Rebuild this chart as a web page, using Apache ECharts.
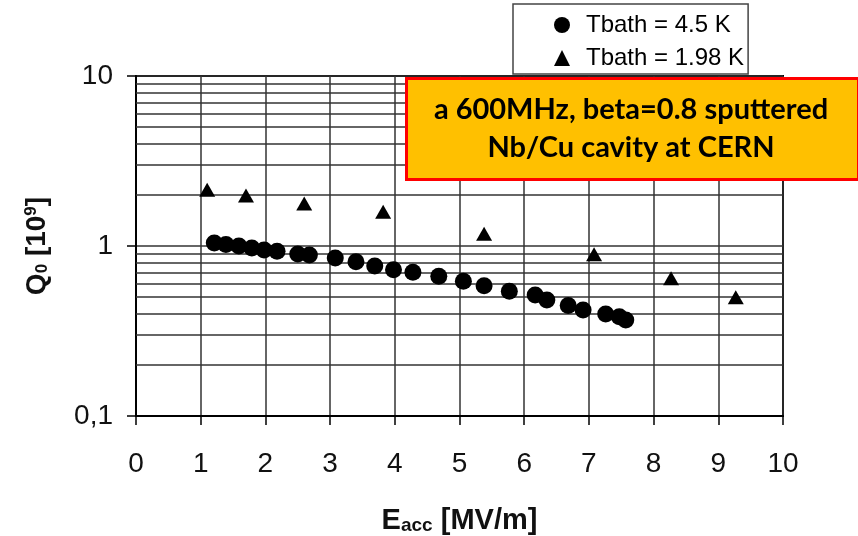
<!DOCTYPE html>
<html>
<head>
<meta charset="utf-8">
<script src="https://cdn.jsdelivr.net/npm/echarts@6/dist/echarts.min.js"></script>
<style>html,body{margin:0;padding:0;background:#fff;overflow:hidden}#c{width:858px;height:536px}</style>
</head>
<body>
<div id="c"></div>
<script>
// Data
const seriesNames = ['Tbath = 4.5 K', 'Tbath = 1.98 K'];
const eacc45 = [1.21, 1.39, 1.59, 1.79, 1.98, 2.18, 2.50, 2.68, 3.08, 3.40, 3.69, 3.98, 4.28, 4.68, 5.06, 5.38, 5.77, 6.17, 6.35, 6.68, 6.91, 7.26, 7.47, 7.57];
const q45    = [1.04, 1.02, 1.00, 0.973, 0.947, 0.931, 0.897, 0.885, 0.850, 0.809, 0.763, 0.726, 0.700, 0.663, 0.620, 0.584, 0.541, 0.515, 0.481, 0.446, 0.420, 0.398, 0.384, 0.367];
const eacc198 = [1.10, 1.70, 2.60, 3.82, 5.38, 7.08, 8.27, 9.27];
const q198    = [2.14, 1.98, 1.78, 1.59, 1.18, 0.893, 0.645, 0.499];
const xTicks = [0, 1, 2, 3, 4, 5, 6, 7, 8, 9, 10];
const yTickValues = [0.1, 1, 10];
const yTickLabels = ['0,1', '1', '10'];
const minorGrid = [0.2, 0.3, 0.4, 0.5, 0.6, 0.7, 0.8, 0.9, 2, 3, 4, 5, 6, 7, 8, 9];
const noteLines = ['a 600MHz, beta=0.8 sputtered', 'Nb/Cu cavity at CERN'];

const gridColor = '#333';
const narrow = 'Liberation Sans Narrow, Liberation Sans, Arial, sans-serif';
const chart = echarts.init(document.getElementById('c'), null, {renderer: 'canvas'});
const zip = (a, b) => a.map((v, i) => [v, b[i]]);

chart.setOption({
  animation: false,
  backgroundColor: '#fff',
  textStyle: {fontFamily: 'Liberation Sans, Arial, sans-serif'},
  grid: {left: 136, right: 75, top: 76, bottom: 120, outerBoundsMode: 'none', containLabel: false,
    show: true, borderColor: '#000', borderWidth: 2, backgroundColor: 'transparent'},
  legend: {
    orient: 'vertical', left: 513, top: 4,
    padding: [9, 4, 4, 41], itemGap: 9,
    itemWidth: 16, itemHeight: 16,
    borderColor: '#444', borderWidth: 1.5, backgroundColor: '#fff',
    textStyle: {fontSize: 24, color: '#000', fontFamily: 'Liberation Sans', padding: [0, 0, 0, 11]},
    data: [{name: seriesNames[0], icon: 'circle'}, {name: seriesNames[1], icon: 'triangle'}]
  },
  xAxis: {
    type: 'value', min: xTicks[0], max: xTicks[xTicks.length - 1], interval: 1,
    axisLine: {lineStyle: {color: '#000', width: 2}},
    axisTick: {length: 9, lineStyle: {color: '#000', width: 1.5}},
    axisLabel: {fontSize: 28, color: '#111', margin: 34, fontFamily: narrow},
    splitLine: {show: true, lineStyle: {color: gridColor, width: 1.5}},
    name: 'E{sub|acc} [MV/m]', nameLocation: 'middle', nameGap: 90,
    nameTextStyle: {fontSize: 29, fontWeight: 'bold', color: '#111', fontFamily: narrow,
      rich: {sub: {fontSize: 19, fontWeight: 'bold', verticalAlign: 'bottom', padding: [10, 0, 0, 0], fontFamily: narrow}}}
  },
  yAxis: {
    type: 'log', logBase: 10, min: yTickValues[0], max: yTickValues[yTickValues.length - 1],
    axisLine: {show: true, lineStyle: {color: '#000', width: 2}},
    axisTick: {show: true, length: 9, lineStyle: {color: '#000', width: 1.5}},
    axisLabel: {fontSize: 28, color: '#111', margin: 23, fontFamily: narrow,
      formatter: v => { const i = yTickValues.findIndex(t => Math.abs(t - v) < 1e-9); return i >= 0 ? yTickLabels[i] : ''; }},
    splitLine: {show: true, lineStyle: {color: gridColor, width: 1.5}},
    name: 'Q{sub|0} [10{sup|9}]', nameLocation: 'middle', nameGap: 85, nameRotate: 90,
    nameTextStyle: {fontSize: 28, fontWeight: 'bold', color: '#111', fontFamily: narrow,
      rich: {
        sub: {fontSize: 17, fontWeight: 'bold', verticalAlign: 'bottom', padding: [10, 0, 0, 0], fontFamily: narrow},
        sup: {fontSize: 17, fontWeight: 'bold', verticalAlign: 'top', padding: [0, 0, 10, 0], fontFamily: narrow}
      }}
  },
  series: [
    {
      name: 'minor', type: 'line', data: [], silent: true,
      markLine: {silent: true, symbol: 'none', label: {show: false},
        lineStyle: {color: gridColor, width: 1.5, type: 'solid'},
        data: minorGrid.map(v => ({yAxis: v}))}
    },
    {name: seriesNames[0], type: 'scatter', symbol: 'circle', symbolSize: 17,
      itemStyle: {color: '#000', opacity: 1}, data: zip(eacc45, q45), z: 5},
    {name: seriesNames[1], type: 'scatter', symbol: 'triangle', symbolSize: [16, 14],
      itemStyle: {color: '#000', opacity: 1}, data: zip(eacc198, q198), z: 5}
  ],
  graphic: [
    {type: 'rect', left: 405, top: 77, z: 100,
      shape: {width: 452, height: 101},
      style: {fill: '#FFC000', stroke: '#FF0000', lineWidth: 3}},
    {type: 'text', x: 631, y: 110, z: 101,
      style: {text: noteLines[0], fill: '#000', font: 'bold 29px Lato, "Open Sans", sans-serif', align: 'center', verticalAlign: 'middle'}},
    {type: 'text', x: 631, y: 148, z: 101,
      style: {text: noteLines[1], fill: '#000', font: 'bold 29px Lato, "Open Sans", sans-serif', align: 'center', verticalAlign: 'middle'}}
  ]
});
</script>
</body>
</html>
